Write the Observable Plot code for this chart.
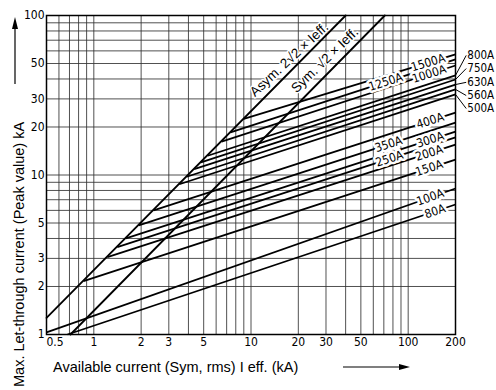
<!DOCTYPE html>
<html><head><meta charset="utf-8">
<script src="https://cdn.jsdelivr.net/npm/d3@7"></script>
<script src="https://cdn.jsdelivr.net/npm/@observablehq/plot@0.6"></script>
<style>
html,body{margin:0;padding:0;background:#fff;}
#chart svg{display:block;}
</style></head>
<body><div id="chart"></div>
<script>
// ---- data ----
const ratings  = ["80A","100A","150A","200A","250A","300A","350A","400A","500A","560A","630A","750A","800A","1000A","1250A","1500A"];
const startI   = [0.68, 0.5, 0.86, 1.22, 1.41, 1.6, 1.93, 2.4, 3.5, 3.9, 4.35, 4.8, 5.3, 6.5, 7.4, 9.0];
const startIp  = [1.0, 1.03, 2.16, 3.06, 3.53, 4.0, 4.83, 6.0, 8.75, 9.75, 10.9, 12.0, 13.2, 16.2, 18.5, 22.5];
const endI     = [200,200,200,200,200,200,200,200,200,200,200,200,200,200,200,200];
const endIp    = [6.53, 8.23, 12.5, 15.5, 17.2, 18.7, 21.3, 24.6, 32.0, 34.4, 36.9, 39.7, 42.1, 48.6, 53.0, 57.0];

const asymI  = [0.5, 40];
const asymIp = [1.27, 100];
const symI   = [0.71, 71];
const symIp  = [1.0, 100];

// labels drawn on the lines (rating, x where the label sits)
const inlineLabels  = ["80A","100A","150A","200A","250A","300A","350A","400A","1000A","1250A","1500A"];
const inlineLabelX  = [148, 138, 136, 136, 76, 138, 75, 138, 136, 72, 134];
// labels outside the frame on the right (rating, y of label)
const outerLabels   = ["800A","750A","630A","560A","500A"];
const outerLabelY   = [56.2, 46.5, 38.1, 31.5, 26.1];

const xTicks = [0.5, 1, 2, 3, 5, 10, 20, 30, 50, 100, 200];
const xTickText = ["0.5", "1", "2", "3", "5", "10", "20", "30", "50", "100", "200"];
const yTicks = [1, 2, 3, 5, 10, 20, 30, 50, 100];
const yTickText = ["1", "2", "3", "5", "10", "20", "30", "50", "100"];
const xGrid = [0.5,0.6,0.7,0.8,0.9,1,2,3,4,5,6,7,8,9,10,20,30,40,50,60,70,80,90,100,200];
const yGrid = [1,2,3,4,5,6,7,8,9,10,20,30,40,50,60,70,80,90,100];

const xTitle = "Available current (Sym, rms) I eff. (kA)";
const yTitle = "Max. Let-through current (Peak value) kA";
const asymText = "Asym. 2\u221A2 \u00D7 Ieff.";
const symText  = "Sym. \u221A2 \u00D7 Ieff.";

// ---- layout ----
const W = 496, H = 390;
const mL = 46, mR = 41, mT = 15, mB = 56;
const pxDecX = (W - mL - mR) / Math.log10(200 / 0.5);
const pxDecY = (H - mT - mB) / Math.log10(100 / 1);
const condensed = "'DejaVu Sans Condensed','Liberation Sans Narrow','DejaVu Sans',sans-serif";
const sans = "'Liberation Sans',Arial,'DejaVu Sans',sans-serif";

const fuses = ratings.map((r, i) => ({r, x1: startI[i], y1: startIp[i], x2: endI[i], y2: endIp[i]}));
const byR = new Map(fuses.map(f => [f.r, f]));
function slopeOf(f) { return Math.log10(f.y2 / f.y1) / Math.log10(f.x2 / f.x1); }
function yOn(f, x) { return f.y1 * Math.pow(x / f.x1, slopeOf(f)); }

const inl = inlineLabels.map((r, i) => {
  const f = byR.get(r), x = inlineLabelX[i];
  return {r, x, y: yOn(f, x), rot: -Math.atan(slopeOf(f) * pxDecY / pxDecX) * 180 / Math.PI};
});
const outer = outerLabels.map((r, i) => ({r, y: outerLabelY[i], yEnd: byR.get(r).y2, xEnd: byR.get(r).x2}));
const xt = xTicks.map((v, i) => ({v, t: xTickText[i]}));
const yt = yTicks.map((v, i) => ({v, t: yTickText[i]}));

const plot = Plot.plot({
  width: W, height: H,
  marginLeft: mL, marginRight: mR, marginTop: mT, marginBottom: mB,
  x: {type: "log", domain: [0.5, 200], axis: null},
  y: {type: "log", domain: [1, 100], axis: null},
  style: {background: "white", fontFamily: condensed},
  marks: [
    Plot.ruleX(xGrid, {stroke: "#333", strokeWidth: 1, strokeOpacity: 0.85}),
    Plot.ruleY(yGrid, {stroke: "#333", strokeWidth: 1, strokeOpacity: 0.85}),
    Plot.line(asymI.map((x, i) => ({x, y: asymIp[i]})), {x: "x", y: "y", stroke: "black", strokeWidth: 1.8}),
    Plot.line(symI.map((x, i) => ({x, y: symIp[i]})), {x: "x", y: "y", stroke: "black", strokeWidth: 1.8}),
    Plot.link(fuses, {x1: "x1", y1: "y1", x2: "x2", y2: "y2", stroke: "black", strokeWidth: 1.8}),
    Plot.link(outer, {x1: "xEnd", y1: "yEnd", x2: () => 234, y2: "y", stroke: "black", strokeWidth: 1}),
    Plot.text(inl, {x: "x", y: "y", text: "r", rotate: "rot", fontSize: 12, fill: "black",
      stroke: "white", strokeWidth: 5, fontFamily: condensed}),
    Plot.text(outer, {x: () => 238, y: "y", text: "r", textAnchor: "start", fontSize: 11.5,
      fill: "black", fontFamily: condensed}),
    Plot.text([asymText], {x: () => 17.5, y: () => 53, text: d => d, rotate: -43, fontSize: 13.5,
      fill: "black", stroke: "white", strokeWidth: 3, fontFamily: sans}),
    Plot.text([symText], {x: () => 29.5, y: () => 52.5, text: d => d, rotate: -44, fontSize: 13.5,
      fill: "black", stroke: "white", strokeWidth: 3, fontFamily: sans}),
    Plot.frame({stroke: "black", strokeWidth: 1.5}),
    // tick labels
    Plot.text(xt.slice(1), {x: "v", text: "t", frameAnchor: "bottom", dy: 11, fontSize: 12,
      fill: "black", fontFamily: condensed}),
    Plot.text(xt.slice(0, 1), {x: "v", text: "t", frameAnchor: "bottom", dy: 11, dx: 0, textAnchor: "start",
      fontSize: 12, fill: "black", fontFamily: condensed}),
    Plot.text(yt, {y: "v", text: "t", frameAnchor: "left", dx: -2, textAnchor: "end", fontSize: 12,
      fill: "black", fontFamily: condensed})
  ]
});

const svg = d3.select(plot);
// x title + arrow
svg.append("text").attr("x", 53).attr("y", 372).attr("text-anchor", "start").attr("font-family", sans)
  .attr("font-size", 14.5).attr("fill", "black").text(xTitle);
svg.append("line").attr("x1", 343).attr("x2", 400).attr("y1", 367).attr("y2", 367)
  .attr("stroke", "black").attr("stroke-width", 1.2);
svg.append("path").attr("d", "M410,367 L399,364 L399,370 Z").attr("fill", "black");
// y title + arrow
svg.append("text").attr("transform", "translate(24,387) rotate(-90)").attr("text-anchor", "start")
  .attr("font-family", sans).attr("font-size", 14.5).attr("fill", "black").text(yTitle);
svg.append("line").attr("x1", 15).attr("x2", 15).attr("y1", 84).attr("y2", 28)
  .attr("stroke", "black").attr("stroke-width", 1.2);
svg.append("path").attr("d", "M15,17 L12,29 L18,29 Z").attr("fill", "black");

document.getElementById("chart").appendChild(plot);
</script>
</body></html>
